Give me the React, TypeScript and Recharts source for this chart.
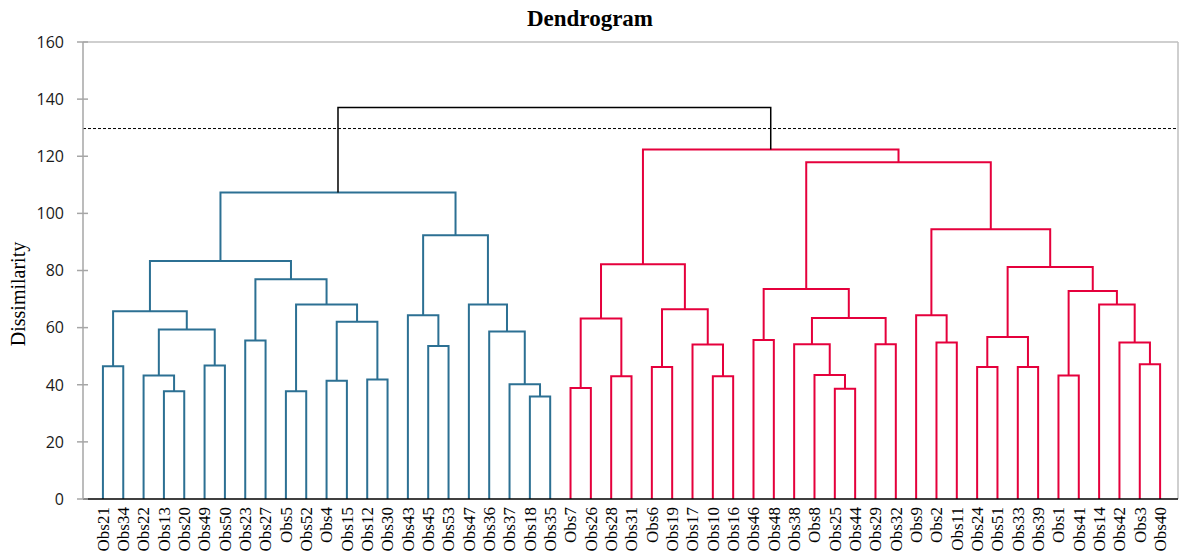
import { ComposedChart, Line, XAxis, YAxis, ReferenceLine } from "recharts";

const leaves = [
  "Obs21", "Obs34", "Obs22", "Obs13", "Obs20", "Obs49", "Obs50", "Obs23", "Obs27", "Obs5",
  "Obs52", "Obs4", "Obs15", "Obs12", "Obs30", "Obs43", "Obs45", "Obs53", "Obs47", "Obs36",
  "Obs37", "Obs18", "Obs35", "Obs7", "Obs26", "Obs28", "Obs31", "Obs6", "Obs19", "Obs17",
  "Obs10", "Obs16", "Obs46", "Obs48", "Obs38", "Obs8", "Obs25", "Obs44", "Obs29", "Obs32",
  "Obs9", "Obs2", "Obs11", "Obs24", "Obs51", "Obs33", "Obs39", "Obs1", "Obs41", "Obs14",
  "Obs42", "Obs3", "Obs40",
];

// linkage: [child a, child b, dissimilarity]; "m<k>" refers to the k-th merge
const merges: [string, string, number][] = [
  ["Obs21", "Obs34", 46.5], // m0
  ["Obs13", "Obs20", 37.7], // m1
  ["Obs22", "m1", 43.2], // m2
  ["Obs49", "Obs50", 46.7], // m3
  ["m2", "m3", 59.3], // m4
  ["m0", "m4", 65.7], // m5
  ["Obs23", "Obs27", 55.5], // m6
  ["Obs5", "Obs52", 37.7], // m7
  ["Obs4", "Obs15", 41.4], // m8
  ["Obs12", "Obs30", 41.8], // m9
  ["m8", "m9", 62.1], // m10
  ["m7", "m10", 68.1], // m11
  ["m6", "m11", 76.9], // m12
  ["m5", "m12", 83.3], // m13
  ["Obs45", "Obs53", 53.6], // m14
  ["Obs43", "m14", 64.3], // m15
  ["Obs18", "Obs35", 35.9], // m16
  ["Obs37", "m16", 40.2], // m17
  ["Obs36", "m17", 58.6], // m18
  ["Obs47", "m18", 68.1], // m19
  ["m15", "m19", 92.3], // m20
  ["m13", "m20", 107.3], // m21
  ["Obs7", "Obs26", 38.9], // m22
  ["Obs28", "Obs31", 43.0], // m23
  ["m22", "m23", 63.2], // m24
  ["Obs6", "Obs19", 46.2], // m25
  ["Obs10", "Obs16", 43.0], // m26
  ["Obs17", "m26", 54.1], // m27
  ["m25", "m27", 66.4], // m28
  ["m24", "m28", 82.2], // m29
  ["Obs46", "Obs48", 55.7], // m30
  ["Obs25", "Obs44", 38.6], // m31
  ["Obs8", "m31", 43.4], // m32
  ["Obs38", "m32", 54.2], // m33
  ["Obs29", "Obs32", 54.2], // m34
  ["m33", "m34", 63.4], // m35
  ["m30", "m35", 73.5], // m36
  ["Obs2", "Obs11", 54.8], // m37
  ["Obs9", "m37", 64.3], // m38
  ["Obs24", "Obs51", 46.2], // m39
  ["Obs33", "Obs39", 46.2], // m40
  ["m39", "m40", 56.7], // m41
  ["Obs1", "Obs41", 43.2], // m42
  ["Obs3", "Obs40", 47.2], // m43
  ["Obs42", "m43", 54.8], // m44
  ["Obs14", "m44", 68.1], // m45
  ["m42", "m45", 72.8], // m46
  ["m41", "m46", 81.2], // m47
  ["m38", "m47", 94.4], // m48
  ["m36", "m48", 117.9], // m49
  ["m29", "m49", 122.4], // m50
  ["m21", "m50", 137.1], // m51
];

const cutLevel = 129.7;
const yTicks = [0, 20, 40, 60, 80, 100, 120, 140, 160];

const clusterColors = ["#2C7093", "#E5003C"];
const serif = "'Liberation Serif', 'DejaVu Serif', serif";
const sans = "'Open Sans', 'Liberation Sans', sans-serif";

type Pt = { x: number; y: number };

function buildSegments() {
  const pos: Record<string, Pt> = {};
  leaves.forEach((name, i) => (pos[name] = { x: i, y: 0 }));
  merges.forEach(([a, b, h], k) => {
    pos["m" + k] = { x: (pos[a].x + pos[b].x) / 2, y: h };
  });

  const colorOf: Record<string, string> = {};
  let next = 0;
  const paint = (id: string, color: string | null) => {
    if (!id.startsWith("m")) return;
    const [a, b, h] = merges[Number(id.slice(1))];
    let c = color;
    if (c === null && h <= cutLevel) c = clusterColors[next++];
    colorOf[id] = c ?? "#000000";
    paint(a, c);
    paint(b, c);
  };
  paint("m" + (merges.length - 1), null);

  return merges.map(([a, b, h], k) => {
    const pa = pos[a];
    const pb = pos[b];
    return {
      id: "m" + k,
      color: colorOf["m" + k],
      data: [
        { x: pa.x, y: pa.y },
        { x: pa.x, y: h },
        { x: pb.x, y: h },
        { x: pb.x, y: pb.y },
      ],
    };
  });
}

const segments = buildSegments();
const xDomain: [number, number] = [-0.98, leaves.length - 1 + 0.88];

const LeafTick = (props: any) => {
  const { x, y, payload } = props;
  return (
    <text
      x={x}
      y={y}
      transform={`rotate(-90 ${x} ${y})`}
      textAnchor="end"
      dy="0.34em"
      fontFamily={serif}
      fontSize={17}
      fill="#000"
    >
      {leaves[payload.value]}
    </text>
  );
};

const ValueTick = (props: any) => {
  const { x, y, payload } = props;
  return (
    <g>
      <line x1={x - 6} x2={x + 5} y1={y} y2={y} stroke="#A6A6A6" strokeWidth={1.5} />
      <text x={x - 19} y={y} dy="0.36em" textAnchor="end" fontFamily={sans} fontSize={16} fill="#1a1a1a">
        {payload.value}
      </text>
    </g>
  );
};

export default function App() {
  return (
    <div style={{ position: "absolute", left: 0, top: 0, width: 1180, height: 557 }}>
      <div
        style={{
          position: "absolute",
          left: 0,
          top: 7,
          width: 1180,
          textAlign: "center",
          fontFamily: serif,
          fontWeight: "bold",
          fontSize: 23,
          lineHeight: "23px",
        }}
      >
        Dendrogram
      </div>
      <div
        style={{
          position: "absolute",
          left: 18,
          top: 294,
          width: 0,
          height: 0,
        }}
      >
        <div
          style={{
            position: "absolute",
            transform: "translate(-50%, -50%) rotate(-90deg)",
            whiteSpace: "nowrap",
            fontFamily: serif,
            fontSize: 20,
            lineHeight: "20px",
          }}
        >
          Dissimilarity
        </div>
      </div>
      <ComposedChart width={1180} height={557} margin={{ top: 42, right: 2, bottom: 0, left: 0 }}>
        <XAxis
          type="number"
          dataKey="x"
          domain={xDomain}
          ticks={leaves.map((_, i) => i)}
          interval={0}
          allowDataOverflow
          height={58}
          tickLine={false}
          tickSize={0}
          tickMargin={8}
          axisLine={{ stroke: "#000", strokeWidth: 1.5 }}
          tick={<LeafTick />}
        />
        <YAxis
          type="number"
          domain={[0, 160]}
          ticks={yTicks}
          interval={0}
          width={83}
          tickLine={false}
          tickSize={0}
          tickMargin={0}
          axisLine={{ stroke: "#A6A6A6", strokeWidth: 1.5 }}
          tick={<ValueTick />}
        />
        <ReferenceLine y={160} stroke="#BFBFBF" strokeWidth={1.5} />
        <ReferenceLine x={xDomain[1]} stroke="#BFBFBF" strokeWidth={1.5} />
        <ReferenceLine y={cutLevel} stroke="#000" strokeWidth={1} strokeDasharray="3 2" />
        {segments.map((s) => (
          <Line
            key={s.id}
            data={s.data}
            dataKey="y"
            type="linear"
            stroke={s.color}
            strokeWidth={s.color === "#000000" ? 1.5 : 2}
            dot={false}
            activeDot={false}
            isAnimationActive={false}
          />
        ))}
      </ComposedChart>
    </div>
  );
}
